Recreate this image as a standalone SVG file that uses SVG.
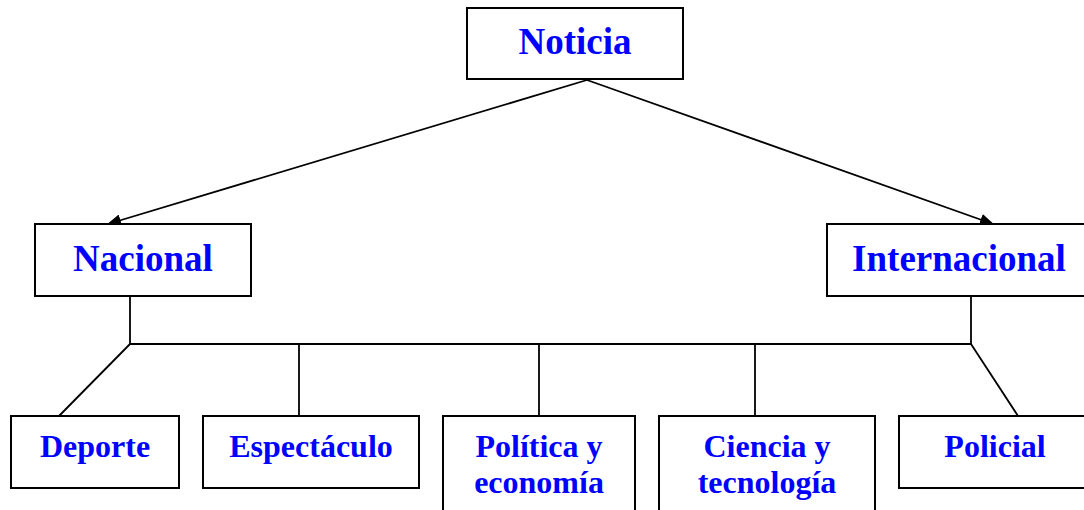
<svg xmlns="http://www.w3.org/2000/svg" width="1084" height="510" viewBox="0 0 1084 510">
<style>
.box{fill:#fff;stroke:#000;stroke-width:2}
.t{font-family:"Liberation Serif","Times New Roman",serif;font-weight:bold;fill:#0000ff;text-anchor:middle}
.big{font-size:37px}
.small{font-size:32px}
.c{stroke:#000;stroke-width:1.8;fill:none}
</style>
<defs>
<marker id="arr" markerWidth="14" markerHeight="12" refX="13" refY="6" orient="auto" markerUnits="userSpaceOnUse">
<path d="M0,0 L14,6 L0,12 Z" fill="#000"/>
</marker>
</defs>
<rect width="1084" height="510" fill="#fff"/>
<g id="connectors">
<line class="c" x1="587" y1="80" x2="108" y2="224" marker-end="url(#arr)"/>
<line class="c" x1="587" y1="80" x2="993" y2="224" marker-end="url(#arr)"/>
<polyline class="c" points="130,296 130,344 971,344 971,296"/>
<line class="c" x1="130" y1="344" x2="59" y2="416"/>
<line class="c" x1="299" y1="344" x2="299" y2="416"/>
<line class="c" x1="539" y1="344" x2="539" y2="416"/>
<line class="c" x1="755" y1="344" x2="755" y2="416"/>
<line class="c" x1="971" y1="344" x2="1018" y2="416"/>
</g>
<g id="noticia"><rect class="box" x="467" y="8" width="216" height="71"/><text class="t big" x="575" y="54">Noticia</text></g>
<g id="nacional"><rect class="box" x="35" y="224" width="216" height="72"/><text class="t big" x="143" y="271">Nacional</text></g>
<g id="internacional"><rect class="box" x="827" y="224" width="264" height="72"/><text class="t big" x="959" y="271">Internacional</text></g>
<g id="deporte"><rect class="box" x="11" y="416" width="168" height="72"/><text class="t small" x="95" y="457">Deporte</text></g>
<g id="espectaculo"><rect class="box" x="203" y="416" width="216" height="72"/><text class="t small" x="311" y="457">Espectáculo</text></g>
<g id="politica"><rect class="box" x="443" y="416" width="192" height="100"/><text class="t small" x="539" y="457">Política y</text><text class="t small" x="539" y="493">economía</text></g>
<g id="ciencia"><rect class="box" x="659" y="416" width="216" height="100"/><text class="t small" x="767" y="457">Ciencia y</text><text class="t small" x="767" y="493">tecnología</text></g>
<g id="policial"><rect class="box" x="899" y="416" width="193" height="72"/><text class="t small" x="995" y="457">Policial</text></g>
</svg>
